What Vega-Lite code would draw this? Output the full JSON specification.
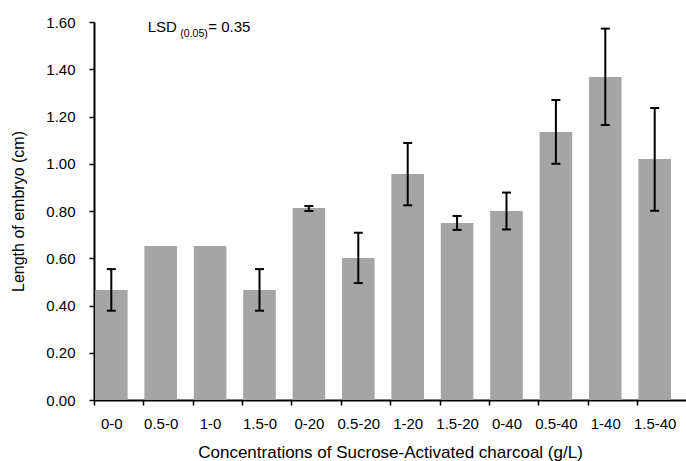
{
  "$schema": "https://vega.github.io/schema/vega-lite/v6.json",
  "width": 592,
  "height": 378,
  "autosize": "none",
  "padding": {"left": 94, "top": 22, "right": 0, "bottom": 61},
  "background": "white",
  "config": {
    "view": {"stroke": null},
    "font": "Liberation Sans",
    "axis": {
      "domainColor": "black",
      "domainWidth": 2,
      "tickColor": "black",
      "tickWidth": 1.5,
      "tickSize": 5,
      "labelColor": "black",
      "titleColor": "black",
      "titleFontWeight": "normal",
      "labelFont": "Liberation Sans",
      "titleFont": "Liberation Sans",
      "labelFontSize": 15,
      "titleFontSize": 16,
      "grid": false
    }
  },
  "data": {
    "values": [
      {"c": "0-0", "m": 0.466, "lo": 0.378, "hi": 0.554},
      {"c": "0.5-0", "m": 0.652, "lo": null, "hi": null},
      {"c": "1-0", "m": 0.652, "lo": null, "hi": null},
      {"c": "1.5-0", "m": 0.466, "lo": 0.378, "hi": 0.554},
      {"c": "0-20", "m": 0.813, "lo": 0.800, "hi": 0.821},
      {"c": "0.5-20", "m": 0.601, "lo": 0.495, "hi": 0.708},
      {"c": "1-20", "m": 0.957, "lo": 0.824, "hi": 1.088},
      {"c": "1.5-20", "m": 0.749, "lo": 0.720, "hi": 0.779},
      {"c": "0-40", "m": 0.800, "lo": 0.722, "hi": 0.878},
      {"c": "0.5-40", "m": 1.134, "lo": 1.000, "hi": 1.270},
      {"c": "1-40", "m": 1.367, "lo": 1.164, "hi": 1.572},
      {"c": "1.5-40", "m": 1.020, "lo": 0.801, "hi": 1.236}
    ]
  },
  "encoding": {
    "x": {
      "field": "c",
      "type": "nominal",
      "sort": null,
      "scale": {"paddingInner": 0.34, "paddingOuter": 0.162, "align": 0.0625},
      "axis": {
        "title": "Concentrations of Sucrose-Activated charcoal (g/L)",
        "titleFontSize": 17,
        "labelAngle": 0,
        "labelPadding": 11,
        "tickOffset": -17.5,
        "labelOffset": 17.5,
        "titlePadding": 13
      }
    }
  },
  "layer": [
    {
      "mark": {"type": "bar", "color": "#a5a5a5"},
      "encoding": {
        "y": {
          "field": "m",
          "type": "quantitative",
          "scale": {"domain": [0, 1.6], "nice": false},
          "axis": {
            "title": "Length of embryo (cm)",
            "values": [0, 0.2, 0.4, 0.6, 0.8, 1.0, 1.2, 1.4, 1.6],
            "format": ".2f",
            "labelPadding": 14,
            "titlePadding": 19
          }
        }
      }
    },
    {
      "transform": [{"filter": "datum.lo != null"}],
      "mark": {"type": "rule", "color": "black", "strokeWidth": 2},
      "encoding": {
        "y": {"field": "lo", "type": "quantitative"},
        "y2": {"field": "hi"}
      }
    },
    {
      "transform": [{"filter": "datum.lo != null"}],
      "mark": {"type": "tick", "color": "black", "thickness": 2, "size": 9, "opacity": 1},
      "encoding": {"y": {"field": "lo", "type": "quantitative"}}
    },
    {
      "transform": [{"filter": "datum.hi != null"}],
      "mark": {"type": "tick", "color": "black", "thickness": 2, "size": 9, "opacity": 1},
      "encoding": {"y": {"field": "hi", "type": "quantitative"}}
    },
    {
      "data": {"values": [{"t": "LSD"}]},
      "mark": {"type": "text", "align": "left", "baseline": "alphabetic", "fontSize": 15, "dx": -13, "color": "black"},
      "encoding": {
        "x": {"datum": "0.5-0"},
        "y": {"datum": 1.556},
        "text": {"field": "t"}
      }
    },
    {
      "data": {"values": [{"t": "(0.05)"}]},
      "mark": {"type": "text", "align": "left", "baseline": "alphabetic", "fontSize": 10.5, "dx": 19.6, "dy": 4.7, "color": "black"},
      "encoding": {
        "x": {"datum": "0.5-0"},
        "y": {"datum": 1.556},
        "text": {"field": "t"}
      }
    },
    {
      "data": {"values": [{"t": "= 0.35"}]},
      "mark": {"type": "text", "align": "left", "baseline": "alphabetic", "fontSize": 15, "dx": 47.6, "color": "black"},
      "encoding": {
        "x": {"datum": "0.5-0"},
        "y": {"datum": 1.556},
        "text": {"field": "t"}
      }
    }
  ]
}
